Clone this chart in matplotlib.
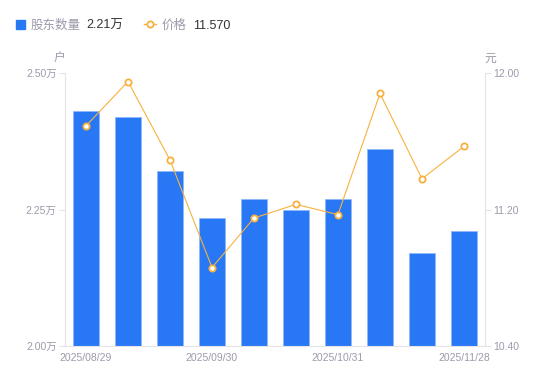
import matplotlib.pyplot as plt
import numpy as np

plt.rcParams['font.family'] = ['Liberation Sans', 'Noto Sans CJK SC', 'DejaVu Sans']

dates = ['2025/08/29', '2025/09/10', '2025/09/19', '2025/09/30', '2025/10/10',
         '2025/10/20', '2025/10/31', '2025/11/10', '2025/11/20', '2025/11/28']
holders = [2.43, 2.42, 2.32, 2.234, 2.27, 2.25, 2.27, 2.36, 2.17, 2.21]  # 万户
price = [11.69, 11.95, 11.49, 10.86, 11.15, 11.23, 11.17, 11.88, 11.38, 11.57]

blue = '#2878f5'
orange = '#f7b13f'
gray = '#9b9bab'
axis_col = '#e3e3e8'

fig = plt.figure(figsize=(5.5, 3.81), dpi=100)
ax = fig.add_axes([65 / 550, 35 / 381, 420 / 550, 273 / 381])
ax2 = ax.twinx()

x = np.arange(len(dates))
ax.bar(x, holders, width=0.6, color=blue, edgecolor='#8fb8f8', linewidth=0.5, zorder=2)
ax.set_xlim(-0.5, len(dates) - 0.5)
ax.set_ylim(2.0, 2.5)
ax.set_yticks([2.0, 2.25, 2.5])
ax.set_yticklabels(['2.00万', '2.25万', '2.50万'])

ax2.plot(x, price, color=orange, linewidth=0.8, marker='o', markersize=4.5,
         markerfacecolor='white', markeredgecolor=orange, markeredgewidth=1.3, zorder=3)
ax2.set_ylim(10.4, 12.0)
ax2.set_yticks([10.4, 11.2, 12.0])
ax2.set_yticklabels(['10.40', '11.20', '12.00'])

ax.set_xticks(x[::3])
ax.set_xticklabels(dates[::3])

for a in (ax, ax2):
    for s in a.spines.values():
        s.set_visible(False)
    a.tick_params(colors=gray, labelsize=7.5, length=4, width=0.8, color=axis_col, pad=2)
ax.spines['left'].set_visible(True)
ax.spines['left'].set_color(axis_col)
ax.spines['bottom'].set_visible(True)
ax.spines['bottom'].set_color(axis_col)
ax2.spines['right'].set_visible(True)
ax2.spines['right'].set_color(axis_col)
ax.tick_params(axis='x', length=0, pad=5)

fig.text(59 / 550, 1 - 59 / 381, '户', color=gray, fontsize=8.5, ha='center', va='center')
fig.text(490 / 550, 1 - 59 / 381, '元', color=gray, fontsize=8.5, ha='center', va='center')

# legend
fig.patches.append(plt.Rectangle((16 / 550, 1 - 29 / 381), 9 / 550, 9 / 381,
                                 transform=fig.transFigure, color=blue, figure=fig))
ty = 1 - 26 / 381
fig.text(31 / 550, ty, '股东数量', color=gray, fontsize=9, va='center')
fig.text(86 / 550, ty, '2.21万', color='#333333', fontsize=9, va='center')
fig.lines.append(plt.Line2D([144 / 550, 156 / 550], [1 - 24 / 381, 1 - 24 / 381],
                            transform=fig.transFigure, color=orange, linewidth=1))
fig.lines.append(plt.Line2D([150 / 550], [1 - 24 / 381], transform=fig.transFigure,
                            marker='o', markersize=4.5, markerfacecolor='white',
                            markeredgecolor=orange, markeredgewidth=1.3, linestyle='none'))
fig.text(162 / 550, ty, '价格', color=gray, fontsize=9, va='center')
fig.text(193 / 550, ty, '11.570', color='#333333', fontsize=9, va='center')

fig.savefig('out.png', dpi=100)
